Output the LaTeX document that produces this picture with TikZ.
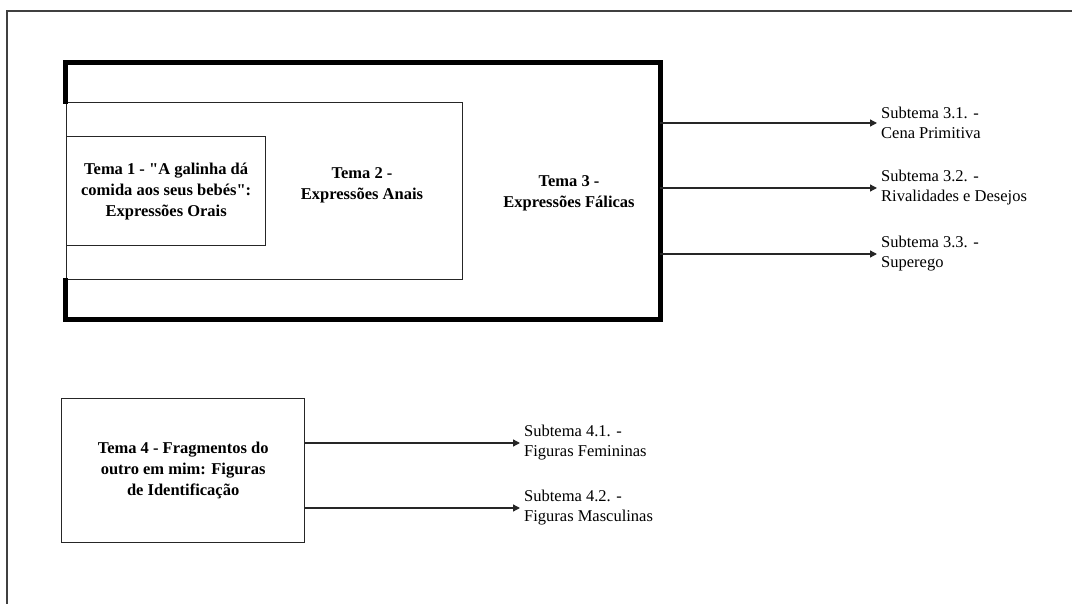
\documentclass[tikz,border=0pt]{standalone}
\usepackage{fontspec}
\setmainfont{Liberation Serif}
\usetikzlibrary{positioning,arrows.meta}

\begin{document}
\begin{tikzpicture}[
    x=1pt, y=-1pt,
    box/.style={rectangle, draw=black!85, line width=1.3pt, anchor=north west, inner sep=0pt},
    heavy/.style={draw=black, line width=5pt, line cap=rect},
    tema/.style={align=center, font=\fontsize{16.5}{21}\selectfont\bfseries},
    sub/.style={anchor=west, align=left, inner sep=4pt, font=\fontsize{16.5}{20}\selectfont},
    arrow/.style={-{Triangle[length=7pt,width=7pt]}, line width=1.3pt, black!85}
]
    \useasboundingbox (0,0) rectangle (1072,604);
    % outer frame
    \draw[black!75, line width=1.3pt] (7,604) -- (7,11) -- (1072,11);

    % nested themes
    \node[box, draw=none, minimum width=594pt, minimum height=255pt] (tema3) at (65,63) {};
    \node[box, minimum width=396pt, minimum height=177pt] (tema2) at (66,102) {};
    \node[box, minimum width=199pt, minimum height=109pt, tema] (tema1) at (66,136)
        {Tema 1 - \textquotedbl A galinha dá\\comida aos seus bebés\textquotedbl:\\Expressões Orais};
    \draw[heavy] (tema3.west |- tema2.north) -- (tema3.north west) -- (tema3.north east)
        -- (tema3.south east) -- (tema3.south west) -- (tema3.west |- tema2.south);
    \node[tema] (tema2txt) at (362,185) {Tema 2 -\\Expressões Anais};
    \node[tema] (tema3txt) at (569,193) {Tema 3 -\\Expressões Fálicas};

    \node[sub] (s31) at (877,123) {Subtema 3.1. -\\Cena Primitiva};
    \node[sub] (s32) at (877,188) {Subtema 3.2. -\\Rivalidades e Desejos};
    \node[sub] (s33) at (877,254) {Subtema 3.3. -\\Superego};

    \draw[arrow] (tema3.east |- s31.west) -- (s31.west);
    \draw[arrow] (tema3.east |- s32.west) -- (s32.west);
    \draw[arrow] (tema3.east |- s33.west) -- (s33.west);

    % theme 4
    \node[box, minimum width=243pt, minimum height=144pt, tema] (tema4) at (61,398)
        {Tema 4 - Fragmentos do\\outro em mim: Figuras\\de Identificação};
    \node[sub] (s41) at (520,443) {Subtema 4.1. -\\Figuras Femininas};
    \node[sub] (s42) at (520,508) {Subtema 4.2. -\\Figuras Masculinas};

    \draw[arrow] (tema4.east |- s41.west) -- (s41.west);
    \draw[arrow] (tema4.east |- s42.west) -- (s42.west);
\end{tikzpicture}
\end{document}
